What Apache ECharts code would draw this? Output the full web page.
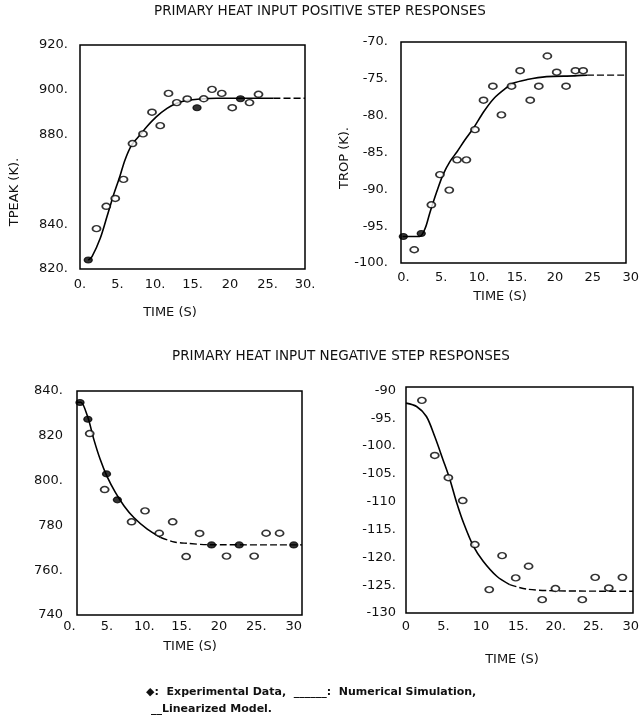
<!DOCTYPE html>
<html>
<head>
<meta charset="utf-8">
<script src="https://cdn.jsdelivr.net/npm/echarts@6/dist/echarts.min.js"></script>
<style>
  html, body { margin: 0; padding: 0; background: #fff; }
  #chart { width: 642px; height: 725px; }
</style>
</head>
<body>
<div id="chart"></div>
<script>
// ---- data -------------------------------------------------------------
const timeTicks = [0, 5, 10, 15, 20, 25, 30];

// Positive step, peak temperature
const tpeakPosXLabels = ['0.', '5.', '10.', '15.', '20', '25.', '30.'];
const tpeakPosYTicks = [820, 840, 880, 900, 920];
const tpeakPosYLabels = ['820.', '840.', '880.', '900.', '920.'];
const tpeakPosExp = [[2.2, 838], [3.5, 848], [4.7, 851.5], [5.8, 860], [7.0, 876], [8.4, 880.3],
  [9.6, 890], [10.7, 884], [11.8, 898.4], [12.9, 894.3], [14.3, 895.9], [16.5, 896],
  [17.6, 900.2], [18.9, 898.4], [20.3, 892], [22.6, 894.3], [23.8, 898]];
const tpeakPosExpSolid = [[1.1, 824], [15.6, 892], [21.4, 896]];
const tpeakPosSim = [[1.1, 824], [1.6, 825.5], [2.7, 833.7], [3.6, 843.4], [4.4, 852.3], [5.3, 861.2],
  [6.0, 868.7], [6.9, 875.4], [8.0, 879.8], [8.9, 883.5], [10.2, 888], [11.6, 891.7],
  [12.9, 894], [14.2, 895.2], [16, 895.9], [18.2, 896.2], [25.8, 896.2]];
const tpeakPosLin = [[25.8, 896.2], [30, 896.2]];

// Positive step, TROP
const tropPosXLabels = ['0.', '5.', '10.', '15.', '20', '25', '30'];
const tropPosYTicks = [-100, -95, -90, -85, -80, -75, -70];
const tropPosYLabels = ['-100.', '-95.', '-90.', '-85.', '-80.', '-75.', '-70.'];
const tropPosExp = [[1.4, -98.2], [3.6, -92.1], [4.7, -88], [5.9, -90.1], [6.9, -86], [8.1, -86],
  [9.2, -81.9], [10.3, -77.9], [11.5, -76], [12.6, -79.9], [13.9, -76], [15.0, -73.9],
  [16.3, -77.9], [17.4, -76], [18.5, -71.9], [19.7, -74.1], [20.9, -76], [22.1, -73.9], [23.1, -73.9]];
const tropPosExpSolid = [[0, -96.4], [2.3, -96.0]];
const tropPosSim = [[-0.1, -96.4], [2.1, -96.4], [2.8, -95.3], [3.4, -93.2], [4.3, -90.3], [5.1, -88.0],
  [6.0, -86.2], [6.9, -84.9], [7.9, -83.3], [9.0, -81.7], [10.3, -79.5], [11.6, -77.7],
  [12.9, -76.5], [14.1, -75.6], [15.9, -75.1], [18.4, -74.7], [21.9, -74.6], [23.6, -74.5]];
const tropPosLin = [[23.6, -74.5], [28.6, -74.5]];

// Negative step, peak temperature
const tpeakNegXLabels = ['0.', '5.', '10.', '15.', '20', '25.', '30'];
const tpeakNegYTicks = [740, 760, 780, 800, 820, 840];
const tpeakNegYLabels = ['740', '760.', '780', '800.', '820', '840.'];
const tpeakNegExp = [[2.7, 821], [4.7, 796], [8.3, 781.6], [10.1, 786.5], [12.0, 776.5], [13.8, 781.6],
  [15.6, 766.1], [17.4, 776.4], [21.0, 766.3], [24.7, 766.3], [26.3, 776.5], [28.1, 776.5]];
const tpeakNegExpSolid = [[1.4, 834.9], [2.45, 827.4], [4.95, 803], [6.4, 791.4], [19.0, 771.3],
  [22.7, 771.3], [30.0, 771.3]];
const tpeakNegSim = [[1, 835], [1.5, 835], [2.4, 828.8], [3.25, 818.4], [4.1, 809.5], [5.0, 802],
  [6.15, 794.6], [7.3, 788.7], [8.6, 783.5], [10.4, 778.3], [12.2, 774.6]];
const tpeakNegLin = [[12.2, 774.6], [14.0, 772.6], [15.7, 772], [18.4, 771.4], [31.1, 771.3]];

// Negative step, TROP
const tropNegXLabels = ['0', '5.', '10', '15.', '20.', '25.', '30'];
const tropNegYTicks = [-130, -125, -120, -115, -110, -105, -100, -95, -90];
const tropNegYLabels = ['-130', '-125.', '-120.', '-115.', '-110', '-105.', '-100.', '-95.', '-90'];
const tropNegExp = [[2.1, -91.8], [3.8, -101.7], [5.6, -105.7], [7.5, -109.8], [9.1, -117.7],
  [11.0, -125.8], [12.7, -119.7], [14.5, -123.7], [16.2, -121.6], [18.0, -127.6], [19.75, -125.6],
  [23.3, -127.6], [25.0, -123.6], [26.8, -125.5], [28.6, -123.6]];
const tropNegExpSolid = [];
const tropNegSim = [[0, -92.3], [1.4, -92.9], [2.7, -94.7], [3.8, -98.3], [4.9, -102.5], [5.8, -106],
  [6.7, -110.2], [7.6, -113.8], [8.9, -118], [10.2, -120.7], [12, -123.4], [13.7, -124.9]];
const tropNegLin = [[13.7, -124.9], [15.9, -125.7], [19.4, -126], [30, -126.1]];

// ---- layout -----------------------------------------------------------
const FONT = '"DejaVu Sans", sans-serif';
const panels = [
  { left: 80, top: 45, width: 225, height: 224, xMin: 0, xMax: 30, yMin: 820, yMax: 920,
    xLabels: tpeakPosXLabels, yTicks: tpeakPosYTicks, yLabels: tpeakPosYLabels,
    exp: tpeakPosExp, expSolid: tpeakPosExpSolid, sim: tpeakPosSim, lin: tpeakPosLin,
    xMargin: 9, yMargin: 12 },
  { left: 401, top: 42, width: 225, height: 221, xMin: -0.3, xMax: 28.6, yMin: -100, yMax: -70,
    xLabels: tropPosXLabels, yTicks: tropPosYTicks, yLabels: tropPosYLabels,
    exp: tropPosExp, expSolid: tropPosExpSolid, sim: tropPosSim, lin: tropPosLin,
    xMargin: 8, yMargin: 13 },
  { left: 77, top: 391, width: 225, height: 224, xMin: 1, xMax: 31.1, yMin: 740, yMax: 840,
    xLabels: tpeakNegXLabels, yTicks: tpeakNegYTicks, yLabels: tpeakNegYLabels,
    exp: tpeakNegExp, expSolid: tpeakNegExpSolid, sim: tpeakNegSim, lin: tpeakNegLin,
    xMargin: 5, yMargin: 14 },
  { left: 406, top: 387, width: 227, height: 226, xMin: 0, xMax: 30, yMin: -130, yMax: -89.4,
    xLabels: tropNegXLabels, yTicks: tropNegYTicks, yLabels: tropNegYLabels,
    exp: tropNegExp, expSolid: tropNegExpSolid, sim: tropNegSim, lin: tropNegLin,
    xMargin: 7, yMargin: 10 }
];

const grid = [], xAxis = [], yAxis = [], series = [];
const labelStyle = { color: '#111', fontFamily: FONT, fontSize: 13 };

panels.forEach((p, i) => {
  const frame = 2 * i, lab = 2 * i + 1;
  // plotting frame: boxed area carrying the data and the value labels
  grid.push({ left: p.left, top: p.top, width: p.width, height: p.height,
    show: true, borderColor: '#000', borderWidth: 1.5, backgroundColor: 'transparent' });
  // time labels run 0..30 on their own axis, aligned to the frame's time scale
  const pxPerSec = p.width / (p.xMax - p.xMin);
  grid.push({ left: p.left + (0 - p.xMin) * pxPerSec, top: p.top,
    width: 30 * pxPerSec, height: p.height, show: false });

  xAxis.push({ gridIndex: frame, type: 'value', min: p.xMin, max: p.xMax, show: false });
  yAxis.push({ gridIndex: frame, type: 'value', min: p.yMin, max: p.yMax,
    axisLine: { show: false }, axisTick: { show: false }, splitLine: { show: false },
    axisLabel: Object.assign({ customValues: p.yTicks, margin: p.yMargin,
      formatter: v => p.yLabels[p.yTicks.indexOf(v)] }, labelStyle) });

  xAxis.push({ gridIndex: lab, type: 'value', min: 0, max: 30,
    axisLine: { show: false }, axisTick: { show: false }, splitLine: { show: false },
    axisLabel: Object.assign({ customValues: timeTicks, margin: p.xMargin,
      showMinLabel: true, showMaxLabel: true,
      formatter: v => p.xLabels[timeTicks.indexOf(v)] }, labelStyle) });
  yAxis.push({ gridIndex: lab, type: 'value', min: 0, max: 1, show: false });

  series.push({ type: 'line', name: 'Numerical Simulation', xAxisIndex: frame, yAxisIndex: frame,
    data: p.sim, showSymbol: false, smooth: 0.3, silent: true,
    lineStyle: { color: '#000', width: 1.6 }, z: 2 });
  series.push({ type: 'line', name: 'Linearized Model', xAxisIndex: frame, yAxisIndex: frame,
    data: p.lin, showSymbol: false, smooth: 0.3, silent: true,
    lineStyle: { color: '#000', width: 1.4, type: [7, 3] }, z: 2 });
  series.push({ type: 'scatter', name: 'Experimental Data', xAxisIndex: frame, yAxisIndex: frame,
    data: p.exp, symbol: 'circle', symbolSize: [8, 6], silent: true,
    itemStyle: { color: '#fff', borderColor: '#000', borderWidth: 1.6 }, z: 3 });
  series.push({ type: 'scatter', name: 'Experimental Data', xAxisIndex: frame, yAxisIndex: frame,
    data: p.expSolid, symbol: 'circle', symbolSize: [8, 6], silent: true,
    itemStyle: { color: '#000', borderColor: '#000', borderWidth: 1.2 }, z: 3 });
});

function txt(text, x, y, size, opts) {
  return Object.assign({ type: 'text', x: x, y: y, silent: true,
    style: { text: text, fill: '#111', font: size + 'px ' + FONT,
      align: 'center', verticalAlign: 'middle' } }, opts || {});
}

const graphic = [
  txt('PRIMARY HEAT INPUT POSITIVE STEP RESPONSES', 320, 11, 13.5),
  txt('PRIMARY HEAT INPUT NEGATIVE STEP RESPONSES', 341, 356, 13.5),
  txt('TPEAK (K).', 15, 192, 13, { rotation: Math.PI / 2 }),
  txt('TROP (K).', 345, 158, 13, { rotation: Math.PI / 2 }),
  txt('TIME (S)', 170, 313, 13),
  txt('TIME (S)', 500, 297, 13),
  txt('TIME (S)', 190, 647, 13),
  txt('TIME (S)', 512, 660, 13),
  { type: 'text', x: 146, y: 692, silent: true,
    style: { text: '\u25C6:  Experimental Data,  ______:  Numerical Simulation,',
      fill: '#111', font: 'bold 11px ' + FONT, align: 'left', verticalAlign: 'middle' } },
  { type: 'text', x: 151, y: 709, silent: true,
    style: { text: '__Linearized Model.',
      fill: '#111', font: 'bold 11px ' + FONT, align: 'left', verticalAlign: 'middle' } }
];

const chart = echarts.init(document.getElementById('chart'), null, { renderer: 'canvas' });
chart.setOption({
  animation: false,
  backgroundColor: '#fff',
  grid: grid,
  xAxis: xAxis,
  yAxis: yAxis,
  series: series,
  graphic: graphic
});
</script>
</body>
</html>
